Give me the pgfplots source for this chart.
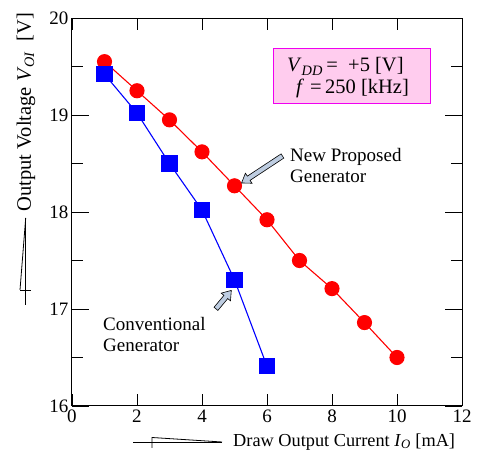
\documentclass[border=0pt]{standalone}
\usepackage{pgfplots}
\pgfplotsset{compat=1.18}
\usepackage{fontspec}
\setmainfont{Liberation Serif}
\usetikzlibrary{shapes.arrows}

\definecolor{boxfill}{RGB}{255,204,238}
\definecolor{boxline}{RGB}{240,0,240}
\definecolor{arrfill}{RGB}{190,205,225}

\pgfplotstableread{
x y
1 19.55
2 19.25
3 18.95
4 18.62
5 18.27
6 17.92
7 17.50
8 17.21
9 16.86
10 16.50
}\proposed

\pgfplotstableread{
x y
1 19.42
2 19.02
3 18.50
4 18.02
5 17.30
6 16.41
}\conventional

\newcommand{\fs}{\fontsize{19}{21}\selectfont}
\newcommand{\fb}{\fontsize{20.5}{23}\selectfont}

\begin{document}
\begin{tikzpicture}
\useasboundingbox (0pt,0pt) rectangle (483pt,463pt);
\begin{axis}[
  at={(72pt,57pt)}, anchor=south west,
  scale only axis, width=390pt, height=388pt,
  xmin=0, xmax=12, ymin=16, ymax=20,
  xtick={0,2,...,12}, ytick={16,17,...,20},
  minor y tick num=1,
  tick align=inside,
  major tick length=17pt, minor tick length=11pt,
  xtick style={/pgfplots/major tick length=12pt},
  tick style={black, line width=0.9pt},
  axis line style={line width=1pt},
  tick label style={font=\fs},
  /pgf/number format/assume math mode=true,
  clip=false,
]
\addplot[red, line width=1.1pt, mark=*, mark size=7pt] table[x=x,y=y] {\proposed};
\addplot[blue, line width=1.1pt, mark=square*, mark size=7.5pt] table[x=x,y=y] {\conventional};
\end{axis}

% parameter box
\draw[boxline, fill=boxfill, line width=1pt] (273pt,359pt) rectangle (430pt,414pt);
\node[anchor=base west, font=\fb, inner sep=0pt] at (287pt,391pt)
  {\textit{V}\textsubscript{\textit{DD}}\,=};
\node[anchor=base west, font=\fb, inner sep=0pt] at (348pt,391pt) {+5 [V]};
\node[anchor=base west, font=\fb, inner sep=0pt] at (296pt,369pt) {\textit{f}};
\node[anchor=base west, font=\fb, inner sep=0pt] at (310pt,369pt) {=};
\node[anchor=base west, font=\fb, inner sep=0pt] at (325pt,369pt) {250 [kHz]};

% annotations
\node[anchor=west, font=\fs, align=left, inner sep=0pt] at (290pt,297pt)
  {New Proposed\\Generator};
\node[single arrow, draw=black, fill=arrfill, line width=0.6pt,
  minimum height=49pt, inner sep=2.2pt, single arrow head extend=3.5pt,
  single arrow tip angle=70, rotate=213.4] at (263.5pt,294.5pt) {};

\node[anchor=west, font=\fs, align=left, inner sep=0pt] at (103pt,128pt)
  {Conventional\\Generator};
\node[single arrow, draw=black, fill=arrfill, line width=0.6pt,
  minimum height=24pt, inner sep=2.2pt, single arrow head extend=3.5pt,
  single arrow tip angle=70, rotate=50.2] at (222.5pt,162pt) {};

% axis labels
\node[anchor=west, font=\fontsize{18.3}{21}\selectfont, inner sep=0pt] at (233pt,21pt)
  {Draw Output Current \textit{I}\textsubscript{\textit{O}} [mA]};
\node[rotate=90, font=\fontsize{20.5}{23}\selectfont, inner sep=0pt] at (26pt,351pt)
  {Output Voltage \textit{V}\textsubscript{\textit{OI}}\enspace[V]};

% stray label marks
\draw[line width=0.8pt] (133pt,21pt) -- (222pt,21pt);
\draw[line width=0.8pt] (152pt,15pt) -- (152pt,25.5pt) -- (222pt,21pt);
\draw[line width=0.8pt] (25.7pt,245pt) -- (25.7pt,158pt);
\draw[line width=0.8pt] (20pt,173pt) -- (31pt,173pt);
\draw[line width=0.8pt] (20pt,173pt) -- (25.7pt,245pt);
\end{tikzpicture}
\end{document}
